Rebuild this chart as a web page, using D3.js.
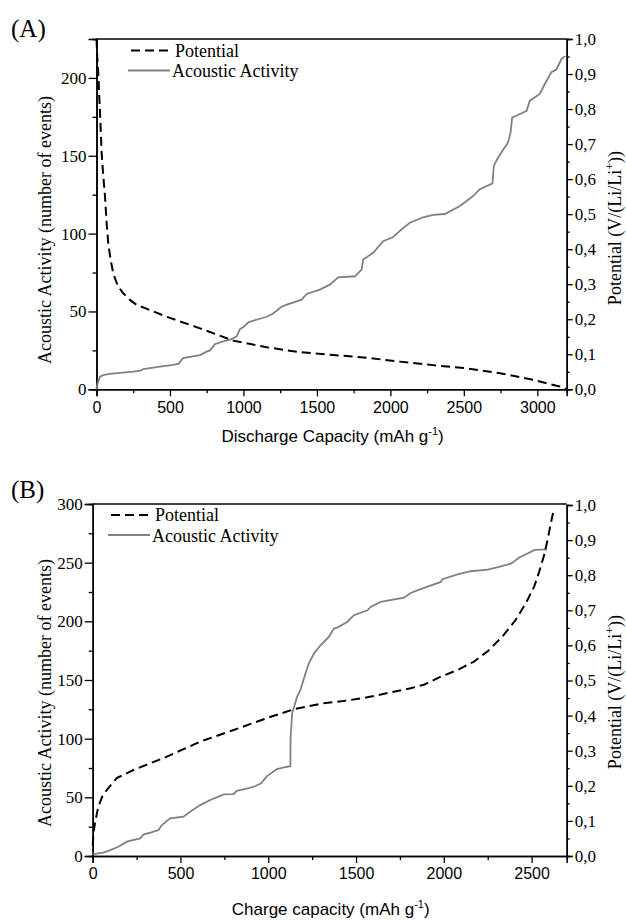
<!DOCTYPE html>
<html>
<head>
<meta charset="utf-8">
<script src="https://cdn.jsdelivr.net/npm/d3@7"></script>
<style>
  body { margin: 0; background: #fff; }
</style>
</head>
<body>
<svg id="chart" width="626" height="920"></svg>
<script>
// (A) discharge : acoustic events vs capacity
const disAcCap = [0, 8, 24, 50, 92, 160, 250, 300, 318, 432, 522, 560, 575, 590, 704, 750, 772, 806, 850, 920, 954, 976, 1000, 1033, 1100, 1158, 1200, 1259, 1300, 1396, 1430, 1520, 1588, 1645, 1759, 1804, 1815, 1883, 1951, 2019, 2076, 2133, 2223, 2291, 2371, 2473, 2563, 2609, 2695, 2704, 2733, 2801, 2818, 2829, 2858, 2927, 2949, 3017, 3051, 3096, 3130, 3165, 3190];
const disAcEvents = [0, 4, 8.1, 9.2, 9.9, 10.6, 11.3, 12, 13, 14.6, 15.7, 16.5, 18.5, 20, 22, 24.2, 25, 29, 30.5, 32.2, 34, 38.7, 40, 43, 45, 46.6, 48.5, 53, 54.5, 57.6, 61.2, 64, 67.2, 71.9, 72.6, 76.9, 83.3, 87.7, 95.1, 97.8, 102.7, 107, 110.5, 112.1, 112.6, 117.7, 124.1, 128.5, 132.3, 143.5, 148.9, 158.6, 165, 174.7, 175.7, 178.9, 185.4, 189.7, 196.1, 203.7, 205.4, 212.2, 214];

// (A) discharge : potential vs capacity
const disPotCap = [0, 5, 12, 24, 35, 46, 58, 68, 80, 96, 114, 145, 182, 225, 273, 352, 478, 704, 930, 1158, 1384, 1611, 1838, 2065, 2291, 2518, 2745, 2971, 3153, 3199];
const disPot = [1.0, 0.95, 0.902, 0.788, 0.674, 0.61, 0.55, 0.48, 0.417, 0.37, 0.331, 0.295, 0.274, 0.256, 0.241, 0.228, 0.207, 0.174, 0.139, 0.12, 0.106, 0.098, 0.09, 0.079, 0.069, 0.06, 0.046, 0.027, 0.008, 0.0];

// (B) charge : acoustic events vs capacity
const chAcCap = [0, 30, 61, 100, 146, 195, 240, 270, 290, 330, 375, 394, 441, 517, 555, 612, 670, 746, 803, 820, 860, 917, 960, 974, 993, 1050, 1090, 1126, 1127, 1136, 1164, 1183, 1212, 1231, 1260, 1298, 1345, 1374, 1393, 1450, 1488, 1565, 1583, 1640, 1773, 1811, 1868, 1983, 1992, 2078, 2153, 2249, 2315, 2382, 2430, 2515, 2540, 2588];
const chAcEvents = [1.4, 2.3, 2.8, 5, 7.9, 12.2, 14, 15, 18.4, 20, 22.1, 26.4, 32.1, 33.5, 37.7, 43.4, 47.7, 52.5, 52.8, 55.5, 56.8, 59, 62, 64.7, 68.1, 74.1, 75.5, 76.5, 100, 121.5, 135.6, 141.4, 155.5, 164, 172.5, 179.6, 186.7, 193.8, 194.7, 199.5, 205.2, 209.4, 212.3, 216.5, 220.2, 224.2, 227.5, 233.6, 235.9, 240, 242.7, 244.1, 246.4, 249.2, 254.4, 260.6, 261.1, 261.2];

// (B) charge : potential vs capacity
const chPotCap = [0, 5, 13, 32, 55, 80, 137, 232, 422, 613, 803, 993, 1145, 1300, 1450, 1564, 1697, 1811, 1887, 1983, 2078, 2172, 2249, 2334, 2410, 2467, 2515, 2544, 2572, 2591, 2610, 2628];
const chPot = [0.03, 0.07, 0.093, 0.141, 0.17, 0.188, 0.222, 0.245, 0.283, 0.326, 0.359, 0.393, 0.418, 0.434, 0.443, 0.452, 0.466, 0.478, 0.488, 0.511, 0.530, 0.554, 0.583, 0.625, 0.673, 0.72, 0.768, 0.811, 0.858, 0.901, 0.949, 0.99];

const serif = "'Liberation Serif', 'Times New Roman', serif";
const sans = "'Liberation Sans', Arial, sans-serif";
const comma = v => d3.format(".1f")(v).replace('.', ',');

let svg = d3.select("#chart");

function drawPanel(p){
  let g = svg.append('g');

  let x = d3.scaleLinear().domain([0, p.xMax]).range([p.left, p.right]);
  let yL = d3.scaleLinear().domain([0, p.yMax]).range([p.bottom, p.top]);
  let yR = d3.scaleLinear().domain([0, 1]).range([p.bottom, p.rTop]);

  // top frame line
  g.append('line')
    .attr('x1', p.left).attr('x2', p.right)
    .attr('y1', p.top).attr('y2', p.top)
    .attr('stroke', 'black').attr('stroke-width', 1.5);

  // minor ticks first, then major ticks with labels
  g.append('g').attr('transform', `translate(0,${p.bottom})`)
    .call(d3.axisBottom(x).tickValues(d3.range(250, p.xMax, 500)).tickSize(4).tickFormat(''));
  g.append('g').attr('class', 'xaxis').attr('transform', `translate(0,${p.bottom})`)
    .call(d3.axisBottom(x).tickValues(d3.range(0, p.xMax + 1, 500)).tickSize(7).tickPadding(5).tickFormat(d3.format('d')));

  g.append('g').attr('transform', `translate(${p.left},0)`)
    .call(d3.axisLeft(yL).tickValues(d3.range(25, p.yMax + 1, 50)).tickSize(4).tickFormat(''));
  g.append('g').attr('class', 'yaxis').attr('transform', `translate(${p.left},0)`)
    .call(d3.axisLeft(yL).tickValues(d3.range(0, p.yMax + 1, 50)).tickSize(8).tickPadding(2));

  g.append('g').attr('transform', `translate(${p.right},0)`)
    .call(d3.axisRight(yR).tickValues(d3.range(0.05, 1, 0.1)).tickSize(3).tickFormat(''));
  g.append('g').attr('class', 'yaxis').attr('transform', `translate(${p.right},0)`)
    .call(d3.axisRight(yR).tickValues(d3.range(0, 11).map(i => i / 10)).tickSize(6).tickPadding(2).tickFormat(comma));

  g.selectAll('.domain').attr('stroke-width', 1.5);
  g.selectAll('.tick line').attr('stroke-width', 1.3);
  g.selectAll('.xaxis text').attr('font-family', sans).attr('font-size', 16);
  g.selectAll('.yaxis text').attr('font-family', serif).attr('font-size', 17);

  // curves
  let acoustic = d3.line().x(d => x(d[0])).y(d => yL(d[1]));
  let potential = d3.line().x(d => x(d[0])).y(d => yR(d[1]));

  g.append('path')
    .datum(d3.zip(p.acCap, p.acEvents))
    .attr('d', acoustic)
    .attr('fill', 'none')
    .attr('stroke', '#808080')
    .attr('stroke-width', 1.8);

  g.append('path')
    .datum(d3.zip(p.potCap, p.pot))
    .attr('d', potential)
    .attr('fill', 'none')
    .attr('stroke', 'black')
    .attr('stroke-width', 2)
    .attr('stroke-dasharray', '9,5');

  // legend
  g.append('line')
    .attr('x1', p.legX).attr('x2', p.legX + 37)
    .attr('y1', p.legY).attr('y2', p.legY)
    .attr('stroke', 'black').attr('stroke-width', 2).attr('stroke-dasharray', '9,5');
  g.append('text').attr('x', p.legX + 44).attr('y', p.legY + 6)
    .attr('font-family', serif).attr('font-size', 18).text('Potential');
  g.append('line')
    .attr('x1', p.legX - 3).attr('x2', p.legX + 39)
    .attr('y1', p.legY + 20).attr('y2', p.legY + 20)
    .attr('stroke', '#808080').attr('stroke-width', 1.8);
  g.append('text').attr('x', p.legX + 41).attr('y', p.legY + 26.5)
    .attr('font-family', serif).attr('font-size', 18).text('Acoustic Activity');

  // panel tag
  g.append('text').attr('x', 11).attr('y', p.tagY)
    .attr('font-family', serif).attr('font-size', 25).text(p.tag);

  // axis titles
  let xt = g.append('text')
    .attr('x', (p.left + p.right) / 2 + 1).attr('y', p.xTitleY)
    .attr('text-anchor', 'middle')
    .attr('font-family', sans).attr('font-size', 17);
  xt.append('tspan').text(p.xTitle + ' (mAh g');
  xt.append('tspan').attr('dy', -7).attr('font-size', 11).text('-1');
  xt.append('tspan').attr('dy', 7).text(')');

  g.append('text')
    .attr('transform', `translate(51,${p.lTitleY}) rotate(-90)`)
    .attr('text-anchor', 'middle')
    .attr('font-family', serif).attr('font-size', 18)
    .text('Acoustic Activity (number of events)');

  let rt = g.append('text')
    .attr('transform', `translate(621,${p.rTitleY}) rotate(-90)`)
    .attr('text-anchor', 'middle')
    .attr('font-family', serif).attr('font-size', 18);
  rt.append('tspan').text('Potential (V/(Li/Li');
  rt.append('tspan').attr('dy', -7).attr('font-size', 12).text('+');
  rt.append('tspan').attr('dy', 7).text('))');
}

drawPanel({
  tag: '(A)', tagY: 37,
  left: 96.5, right: 566.7, top: 39, bottom: 389.3, rTop: 39,
  xMax: 3200, yMax: 225,
  acCap: disAcCap, acEvents: disAcEvents, potCap: disPotCap, pot: disPot,
  legX: 131, legY: 50.5,
  xTitle: 'Discharge Capacity', xTitleY: 442,
  lTitleY: 230, rTitleY: 228
});

drawPanel({
  tag: '(B)', tagY: 498,
  left: 92.7, right: 566.7, top: 504, bottom: 856, rTop: 505,
  xMax: 2700, yMax: 300,
  acCap: chAcCap, acEvents: chAcEvents, potCap: chPotCap, pot: chPot,
  legX: 111, legY: 515,
  xTitle: 'Charge capacity', xTitleY: 915,
  lTitleY: 693, rTitleY: 692
});
</script>
</body>
</html>
